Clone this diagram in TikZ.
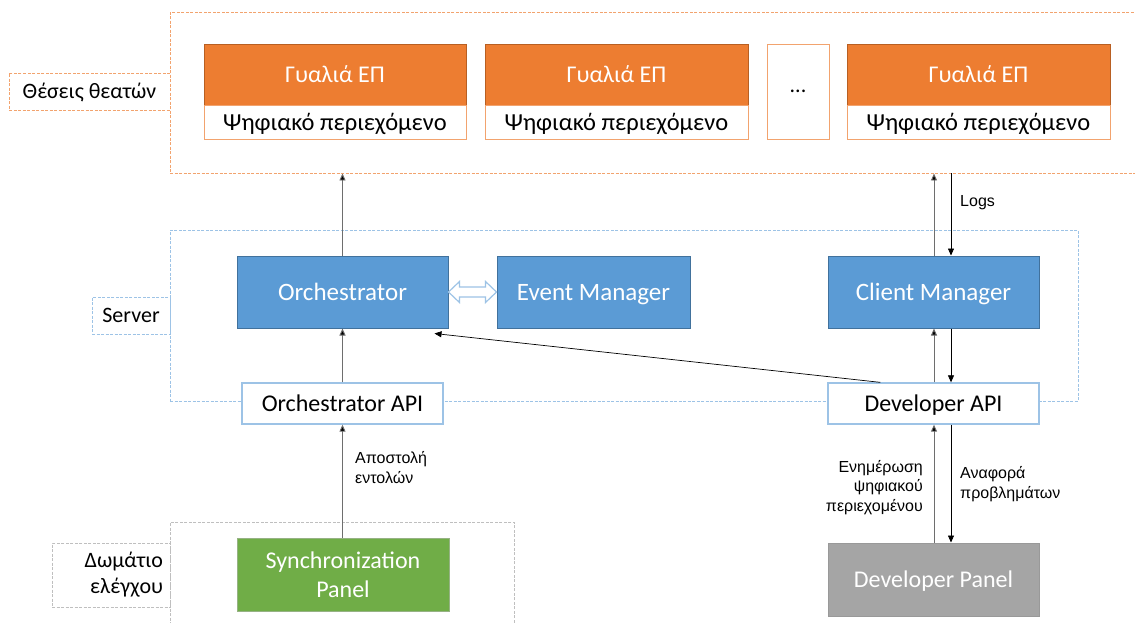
\documentclass[tikz,border=0pt]{standalone}
\usepackage{fontspec}
\setmainfont{Carlito}
\newfontfamily\arialf{Liberation Sans}
\usetikzlibrary{calc,arrows.meta}
\definecolor{orF}{HTML}{ED7D31}
\definecolor{orD}{HTML}{B85F22}
\definecolor{orL}{HTML}{F2A36E}
\definecolor{blF}{HTML}{5B9BD5}
\definecolor{blD}{HTML}{41719C}
\definecolor{blL}{HTML}{9DC3E6}
\definecolor{grF}{HTML}{70AD47}
\definecolor{grD}{HTML}{507E32}
\definecolor{gyF}{HTML}{A5A5A5}
\definecolor{gyD}{HTML}{7F7F7F}
\definecolor{gyL}{HTML}{BFBFBF}
\definecolor{lnC}{HTML}{6E6E6E}
\tikzset{
  box/.style={rectangle, inner sep=0pt, line width=1pt, align=center},
  oneline/.style={text height=21pt, text depth=5pt},
  vrtop/.style={box, oneline, fill=orF, draw=orD, text=white, minimum width=262pt, minimum height=61pt, font=\fontsize{24}{28}\selectfont},
  vrbot/.style={box, oneline, fill=white, draw=orL, text=black, minimum width=262pt, minimum height=34pt, font=\fontsize{24.5}{28}\selectfont},
  bluebox/.style={box, oneline, fill=blF, draw=blD, text=white, minimum height=72pt, font=\fontsize{25}{29}\selectfont},
  apibox/.style={box, oneline, fill=white, draw=blL, line width=1.3pt, text=black, minimum width=201pt, minimum height=41pt, font=\fontsize{24}{28}\selectfont},
  cont/.style={rectangle, inner sep=0pt, line width=0.9pt, dash pattern=on 3pt off 1.5pt},
  clbl/.style={cont, fill=white, font=\fontsize{22}{26}\selectfont},
  lbl/.style={font=\arialf\fontsize{16}{19.5}\selectfont, inner sep=0pt},
  arr/.style={draw=lnC, line width=0.9pt, -{Triangle[length=7pt,width=6pt,fill=black]}},
  darr/.style={draw=black, line width=0.7pt, -{Triangle[length=7pt,width=6pt,fill=black]}}
}
\begin{document}
\begin{tikzpicture}[x=1pt,y=-1pt]
\useasboundingbox (0,0) rectangle (1135,622);

% containers
\node[cont, draw=orL, minimum width=975pt, minimum height=161pt] (seats) at (657.5,92.5) {};
\node[cont, draw=blL, fill=white, minimum width=908pt, minimum height=171pt] (server) at (624,315.5) {};
\node[cont, draw=gyL, minimum width=344pt, minimum height=130pt] (ctrl) at (342,587) {};

% container labels
\node[clbl, text height=19pt, text depth=5pt, draw=orL, minimum width=161pt, minimum height=37pt] (seatsL) at (89.5,91.5) {Θέσεις θεατών};
\node[clbl, text height=19pt, text depth=5pt, draw=blL, minimum width=78pt, minimum height=37pt] (serverL) at (131,315.5) {Server};
\node[clbl, draw=gyL, minimum width=118pt, minimum height=64pt, align=right, text width=104pt] (ctrlL) at (111,575) {Δωμάτιο\\ελέγχου};

% AR glasses
\node[vrtop] (g1) at (335,74.5) {Γυαλιά ΕΠ};
\node[vrbot] (c1) at (335,122) {Ψηφιακό περιεχόμενο};
\node[vrtop, minimum width=263pt] (g2) at (616.5,74.5) {Γυαλιά ΕΠ};
\node[vrbot, minimum width=263pt] (c2) at (616.5,122) {Ψηφιακό περιεχόμενο};
\node[box, fill=white, draw=orL, minimum width=62pt, minimum height=95pt, font=\fontsize{22}{26}\selectfont] (dots) at (798,91.5) {...};
\node[vrtop, minimum width=263pt] (g4) at (978.5,74.5) {Γυαλιά ΕΠ};
\node[vrbot, minimum width=263pt] (c4) at (978.5,122) {Ψηφιακό περιεχόμενο};

% server
\node[bluebox, minimum width=211pt] (orch) at (342.5,292) {Orchestrator};
\node[bluebox, minimum width=193pt] (event) at (593.5,292) {Event Manager};
\node[bluebox, minimum width=211pt] (client) at (933.5,292) {Client Manager};
\node[apibox] (orchAPI) at (342.5,403.5) {Orchestrator API};
\node[apibox, minimum width=211pt] (devAPI) at (933.5,403.5) {Developer API};

% panels
\node[box, fill=grF, draw=grD!60, text=white, minimum width=212pt, minimum height=73pt, font=\fontsize{24}{29.5}\selectfont] (sync) at (343,574.5) {Synchronization\\Panel};
\node[box, oneline, fill=gyF, draw=gyD!80, text=white, minimum width=211pt, minimum height=73pt, font=\fontsize{24}{28}\selectfont] (devP) at (933.5,579.5) {Developer Panel};

% double hollow arrow
\draw[draw=blL, line width=1.2pt, fill=white, line join=miter]
  (orch.east) -- ($(orch.east)+(11,-10.5)$) -- ($(orch.east)+(11,-5)$)
  -- ($(event.west)+(-11,-5)$) -- ($(event.west)+(-11,-10.5)$) -- (event.west)
  -- ($(event.west)+(-11,10.5)$) -- ($(event.west)+(-11,5)$)
  -- ($(orch.east)+(11,5)$) -- ($(orch.east)+(11,10.5)$) -- cycle;

% helper coordinates for paired arrows
\coordinate (cnU) at ($(client.north)+(0.5,0)$);
\coordinate (cnD) at ($(client.north)+(17.5,0)$);
\coordinate (csU) at ($(client.south)+(0.5,0)$);
\coordinate (csD) at ($(client.south)+(17.5,0)$);
\coordinate (daNU) at ($(devAPI.north)+(0.5,0)$);
\coordinate (daND) at ($(devAPI.north)+(17.5,0)$);
\coordinate (daSU) at ($(devAPI.south)+(0.5,0)$);
\coordinate (daSD) at ($(devAPI.south)+(17.5,0)$);
\coordinate (dpU) at ($(devP.north)+(0.5,0)$);
\coordinate (dpD) at ($(devP.north)+(17.5,0)$);

% connectors
\draw[arr] (orch.north) -- (orch.north |- seats.south);
\draw[arr] (cnU) -- (cnU |- seats.south);
\draw[darr] (cnD |- seats.south) -- (cnD);
\node[lbl, anchor=west] (logs) at (960,203) {Logs};

\draw[arr] (daNU) -- (csU);
\draw[darr] (csD) -- (daND);
\draw[darr] ($(devAPI.north west)+(53,0)$) -- ($(orch.south east)+(-14,5)$);

\draw[arr] (orchAPI.north) -- (orch.south);
\draw[arr] (sync.north -| orchAPI.south) -- (orchAPI.south);
\node[lbl, anchor=west, align=left] (cmdL) at (355,467.5) {Αποστολή\\εντολών};

\draw[arr] (dpU) -- (daSU);
\draw[darr] (daSD) -- (dpD);
\node[lbl, anchor=east, align=right] (updL) at (923,487.5) {Ενημέρωση\\ψηφιακού\\περιεχομένου};
\node[lbl, anchor=west, align=left] (repL) at (960,484) {Αναφορά\\προβλημάτων};
\end{tikzpicture}
\end{document}
